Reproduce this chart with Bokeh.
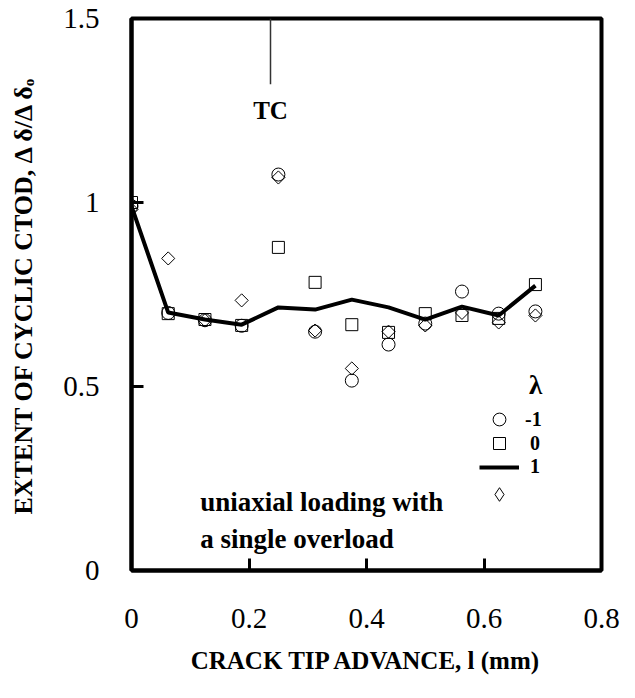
from bokeh.plotting import figure
from bokeh.models import (Range1d, FixedTicker, Label, Legend, LegendItem, ColumnDataSource)
from bokeh.embed import file_html
from bokeh.resources import INLINE
import math

# ---- data (crack tip advance l in mm, normalised cyclic CTOD) ----
crack_advance = [0.0, 0.0625, 0.125, 0.1875, 0.25, 0.3125, 0.375, 0.4375, 0.5, 0.5625, 0.625, 0.6875]
lam_minus1 = [0.99, 0.70, 0.68, 0.665, 1.076, 0.649, 0.516, 0.614, 0.671, 0.758, 0.698, 0.704]
lam_0 = [1.00, 0.698, 0.682, 0.666, 0.878, 0.783, 0.668, 0.647, 0.698, 0.693, 0.685, 0.777]
lam_1_line = [0.99, 0.701, 0.682, 0.668, 0.715, 0.709, 0.736, 0.715, 0.682, 0.717, 0.693, 0.774]
lam_1_diamond = [0.981, 0.848, 0.68, 0.734, 1.068, 0.652, 0.549, 0.649, 0.666, 0.70, 0.674, 0.693]

x_ticks = [0, 0.2, 0.4, 0.6, 0.8]
x_tick_labels = ["0", "0.2", "0.4", "0.6", "0.8"]
y_ticks = [0, 0.5, 1, 1.5]
y_tick_labels = ["0", "0.5", "1", "1.5"]
legend_labels = ["-1", "\u00a00", "\u00a01", "\u00a0"]

tc_position = 0.2366

SERIF = "Liberation Serif"

p = figure(width=620, height=682, output_backend="svg", toolbar_location=None,
           x_range=Range1d(0, 0.8), y_range=Range1d(0, 1.5),
           min_border_left=131, min_border_right=19, min_border_top=18, min_border_bottom=112)
p.background_fill_color = "white"
p.border_fill_color = "white"
p.outline_line_color = "black"
p.outline_line_width = 4
p.xgrid.visible = False
p.ygrid.visible = False

for ax in (p.xaxis[0], p.yaxis[0]):
    ax.axis_line_width = 4
    ax.axis_line_color = "black"
    ax.major_tick_in = 12
    ax.major_tick_out = 0
    ax.major_tick_line_width = 3
    ax.major_tick_line_color = "black"
    ax.minor_tick_line_color = None
    ax.major_label_text_font = SERIF
    ax.major_label_text_font_size = "29px"
    ax.major_label_text_color = "black"
    ax.axis_label_text_font = SERIF
    ax.axis_label_text_font_style = "bold"
    ax.axis_label_text_color = "black"

p.xaxis.ticker = FixedTicker(ticks=x_ticks)
p.yaxis.ticker = FixedTicker(ticks=y_ticks)
p.xaxis.major_label_overrides = dict(zip(x_ticks, x_tick_labels))
p.yaxis.major_label_overrides = dict(zip(y_ticks, y_tick_labels))
p.xaxis.major_label_standoff = 38
p.yaxis.major_label_standoff = 32
p.xaxis.axis_label = "CRACK TIP ADVANCE, l (mm)"
p.xaxis.axis_label_text_font_size = "25px"
p.xaxis.axis_label_standoff = 16
p.yaxis.axis_label = "EXTENT OF CYCLIC CTOD, \u0394 \u03b4/\u0394 \u03b4\u2092"
p.yaxis.axis_label_text_font_size = "26px"
p.yaxis.axis_label_standoff = 22

src = ColumnDataSource(dict(x=crack_advance, a=lam_minus1, b=lam_0, c=lam_1_line, d=lam_1_diamond))

r_circ = p.scatter("x", "a", source=src, marker="circle", size=13, fill_alpha=0,
                   line_color="black", line_width=1)
r_sq = p.scatter("x", "b", source=src, marker="square", size=12, fill_alpha=0,
                 line_color="black", line_width=1)
r_dia = p.scatter("x", "d", source=src, marker="square", size=9.3, angle=math.pi / 4,
                  fill_alpha=0, line_color="black", line_width=1)
r_line = p.line("x", "c", source=src, line_color="black", line_width=4)

# legend-only key for the diamond series (no visible data points)
key_src = ColumnDataSource(dict(x=[float("nan")], y=[float("nan")]))
r_dia_key = p.scatter("x", "y", source=key_src, marker="diamond", size=14, fill_alpha=0,
                      line_color="black", line_width=1)

# TC marker line
p.segment(x0=[tc_position], y0=[1.5], x1=[tc_position], y1=[1.321], line_color="#333333", line_width=1.5)
p.add_layout(Label(x=tc_position, y=1.25, text="TC", text_font=SERIF, text_font_style="bold",
                   text_font_size="25px", text_align="center", text_baseline="alphabetic",
                   text_color="black"))

# annotation
p.add_layout(Label(x=0.117, y=0.185, text="uniaxial loading with", text_font=SERIF,
                   text_font_style="bold", text_font_size="27px", text_baseline="alphabetic",
                   text_color="black"))
p.add_layout(Label(x=0.117, y=0.085, text="a single overload", text_font=SERIF,
                   text_font_style="bold", text_font_size="27px", text_baseline="alphabetic",
                   text_color="black"))

# lambda heading
p.add_layout(Label(x=0.688, y=0.505, text="\u03bb", text_font=SERIF, text_font_style="bold",
                   text_font_size="27px", text_align="center", text_baseline="alphabetic",
                   text_color="black"))

# one single-row legend per key so each key can have its own glyph size
rows = [
    (legend_labels[0], r_circ, 32, 151),
    (legend_labels[1], r_sq, 30, 127),
    (legend_labels[2], r_line, 20, 102),
    (legend_labels[3], r_dia_key, 34, 76),
]
for label, rend, gh, centre in rows:
    lg = Legend(items=[LegendItem(label=label, renderers=[rend])],
                location=(348, centre - gh // 2), orientation="vertical")
    lg.glyph_width = 40
    lg.glyph_height = gh
    lg.label_height = gh
    lg.spacing = 0
    lg.padding = 0
    lg.margin = 0
    lg.label_standoff = 6
    lg.label_text_font = SERIF
    lg.label_text_font_style = "bold"
    lg.label_text_font_size = "20px"
    lg.label_text_color = "black"
    lg.background_fill_alpha = 0
    lg.border_line_alpha = 0
    lg.inactive_fill_alpha = 0
    p.add_layout(lg, "center")

open("out.html", "w").write(file_html(p, INLINE))
